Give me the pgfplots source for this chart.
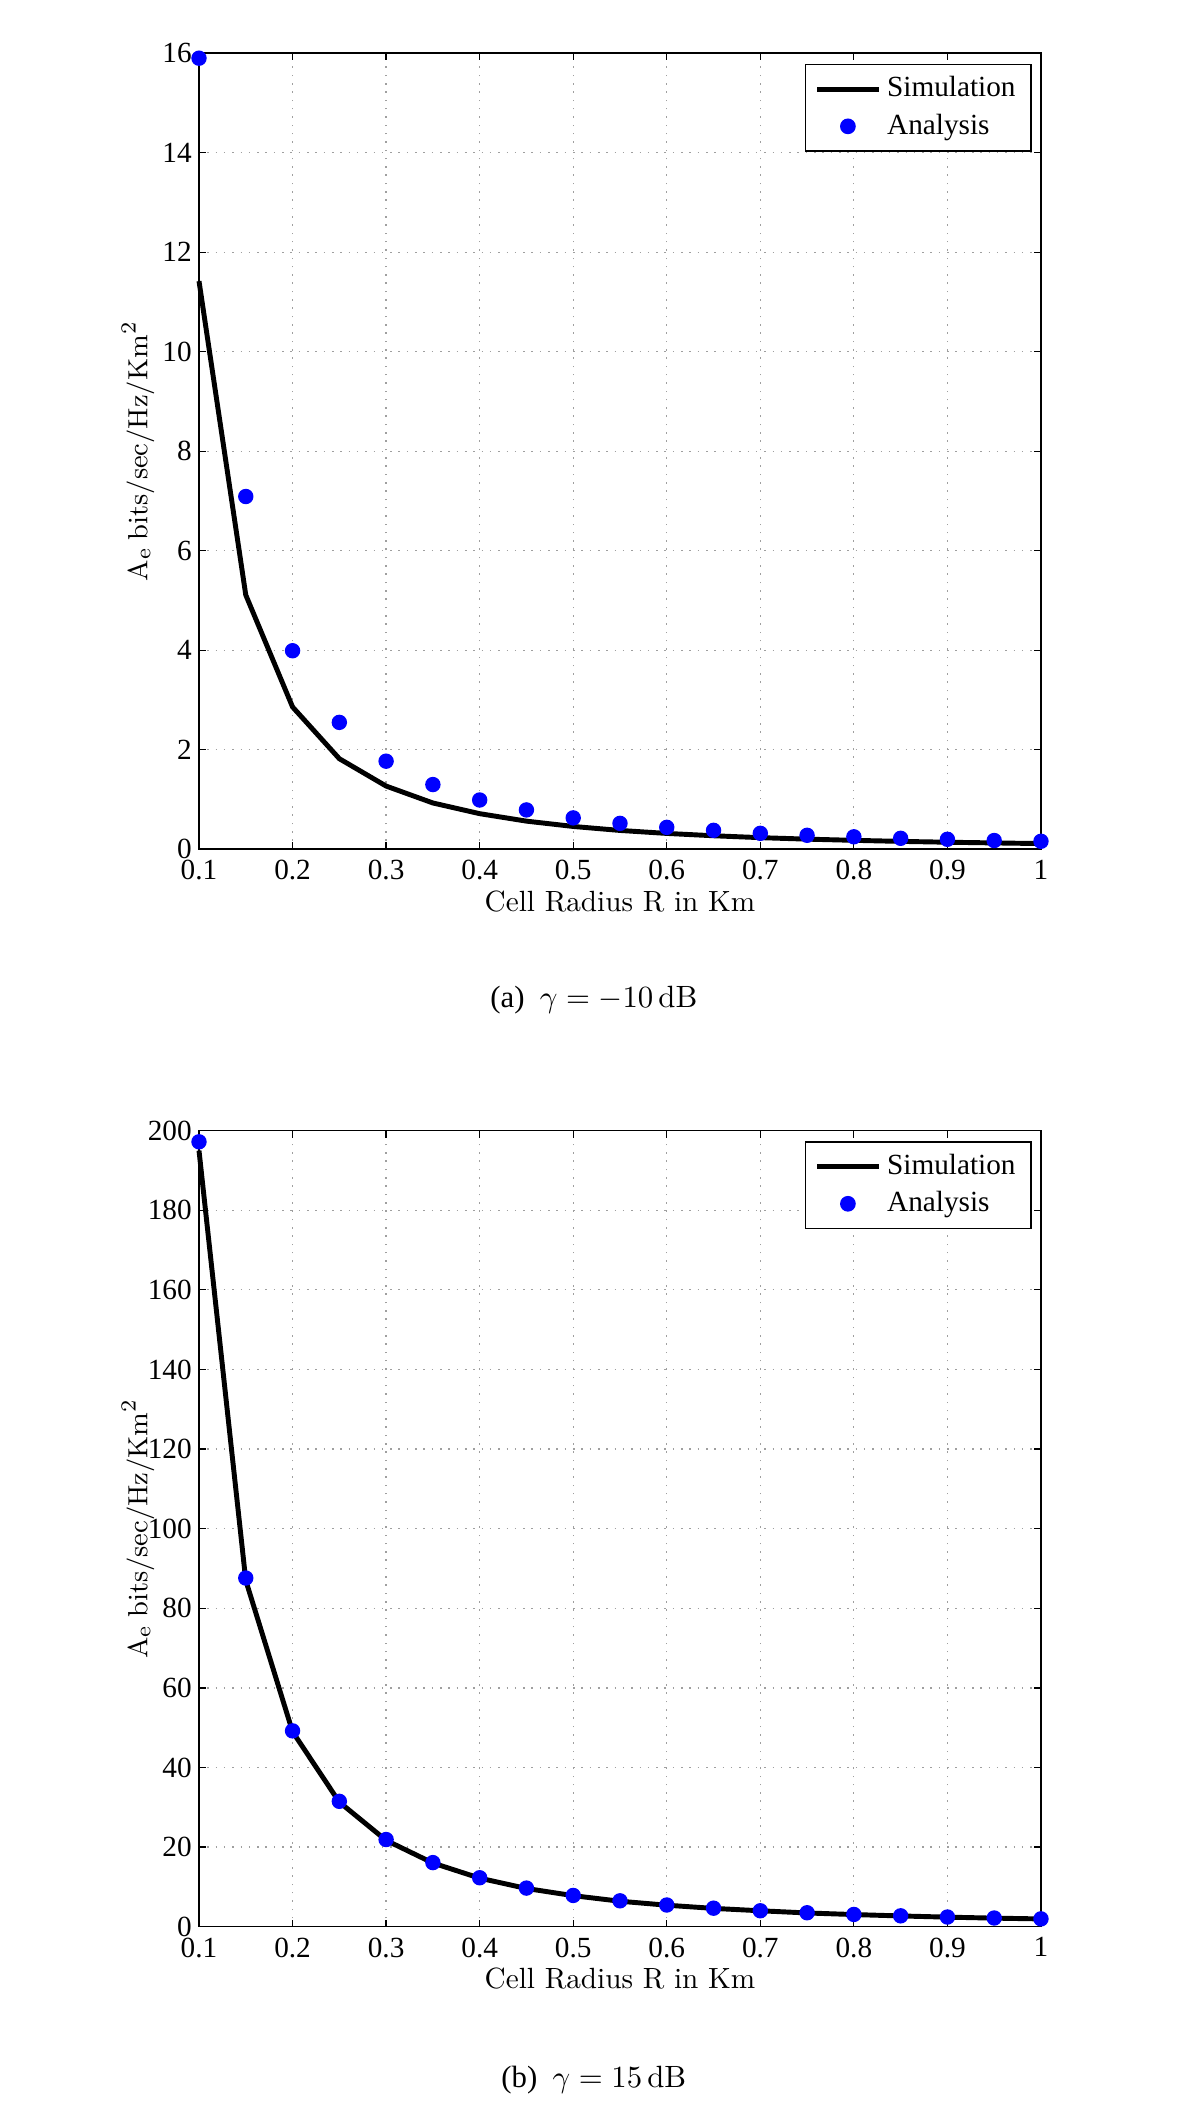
\documentclass[border=0pt]{standalone}
\usepackage[no-math]{fontspec}
\setmainfont{Liberation Serif}
\usepackage{pgfplots}
\pgfplotsset{compat=1.18}

\pgfplotsset{
  panel/.style={
    scale only axis,
    width=9.613cm, height=9.088cm,
    xmin=0.1, xmax=1,
    xtick={0.1,0.2,0.3,0.4,0.5,0.6,0.7,0.8,0.9,1},
    grid=major,
    major grid style={gray!75, dash pattern=on 0.5pt off 2.2pt, line width=0.4pt},
    tick align=inside,
    major tick length=0.08cm,
    tick style={black, line width=0.4pt},
    axis line style={line width=0.5pt},
    /pgf/number format/assume math mode=true,
    ticklabel style={font=\fontsize{9.5}{11}\selectfont},
    yticklabel style={xshift=0.04cm},
    label style={font=\fontsize{9.5}{11}\selectfont},
    xlabel={\fontfamily{lmr}\selectfont Cell Radius R in Km},
    ylabel={$\mathrm{A_e\ bits/sec/Hz/Km^2}$},
    xlabel style={at={(axis description cs:0.5,-0.0655)}, anchor=center},
    ylabel style={at={(axis description cs:-0.0724,0.5)}, anchor=center},
    legend style={at={(0.989,0.987)}, anchor=north east,
      font=\fontsize{9.5}{11}\selectfont, draw=black, line width=0.5pt},
    legend cell align=left,
    legend image code/.code={\draw[mark repeat=2,mark phase=2,#1]
      plot coordinates {(0cm,0cm) (0.35cm,0cm) (0.7cm,0cm)};},
    clip=false,
  },
  sim/.style={black, line width=1.6pt, mark=none},
  ana/.style={only marks, mark=*, mark size=2.3pt, blue, mark options={fill=blue, draw=blue}},
}

\begin{document}
\begin{tikzpicture}
\useasboundingbox (0,0) rectangle (13.7,24.261);

% (a) gamma = -10 dB
\begin{axis}[panel, at={(2.272cm,14.565cm)}, anchor=south west,
    ymin=0, ymax=16, ytick={0,2,4,6,8,10,12,14,16}]
\addplot[sim] coordinates {
  (0.10,11.42) (0.15,5.11) (0.20,2.86) (0.25,1.82) (0.30,1.27)
  (0.35,0.93) (0.40,0.715) (0.45,0.565) (0.50,0.458) (0.55,0.378)
  (0.60,0.318) (0.65,0.271) (0.70,0.233) (0.75,0.203) (0.80,0.179)
  (0.85,0.158) (0.90,0.141) (0.95,0.127) (1.00,0.114)
};
\addlegendentry{Simulation}
\addplot[ana] coordinates {
  (0.10,15.9) (0.15,7.09) (0.20,3.99) (0.25,2.55) (0.30,1.77)
  (0.35,1.30) (0.40,0.99) (0.45,0.79) (0.50,0.63) (0.55,0.52)
  (0.60,0.44) (0.65,0.38) (0.70,0.32) (0.75,0.28) (0.80,0.25)
  (0.85,0.22) (0.90,0.20) (0.95,0.175) (1.00,0.16)
};
\addlegendentry{Analysis}
\end{axis}

% (b) gamma = 15 dB
\begin{axis}[panel, at={(2.272cm,2.264cm)}, anchor=south west,
    ymin=0, ymax=200, ytick={0,20,40,60,80,100,120,140,160,180,200}]
\addplot[sim] coordinates {
  (0.10,195) (0.15,87.0) (0.20,49.0) (0.25,31.3) (0.30,21.7)
  (0.35,16.0) (0.40,12.2) (0.45,9.6) (0.50,7.8) (0.55,6.4)
  (0.60,5.4) (0.65,4.6) (0.70,4.0) (0.75,3.45) (0.80,3.05)
  (0.85,2.7) (0.90,2.4) (0.95,2.15) (1.00,1.95)
};
\addlegendentry{Simulation}
\addplot[ana] coordinates {
  (0.10,197.2) (0.15,87.6) (0.20,49.2) (0.25,31.5) (0.30,21.9)
  (0.35,16.1) (0.40,12.3) (0.45,9.7) (0.50,7.85) (0.55,6.5)
  (0.60,5.45) (0.65,4.65) (0.70,4.0) (0.75,3.5) (0.80,3.08)
  (0.85,2.73) (0.90,2.43) (0.95,2.18) (1.00,1.97)
};
\addlegendentry{Analysis}
\end{axis}

\node[font=\fontsize{10}{12}\selectfont] at (6.78,12.844) {(a)\enspace$\gamma = -10\,\mathrm{dB}$};
\node[font=\fontsize{10}{12}\selectfont] at (6.78,0.514) {(b)\enspace$\gamma = 15\,\mathrm{dB}$};
\end{tikzpicture}
\end{document}
